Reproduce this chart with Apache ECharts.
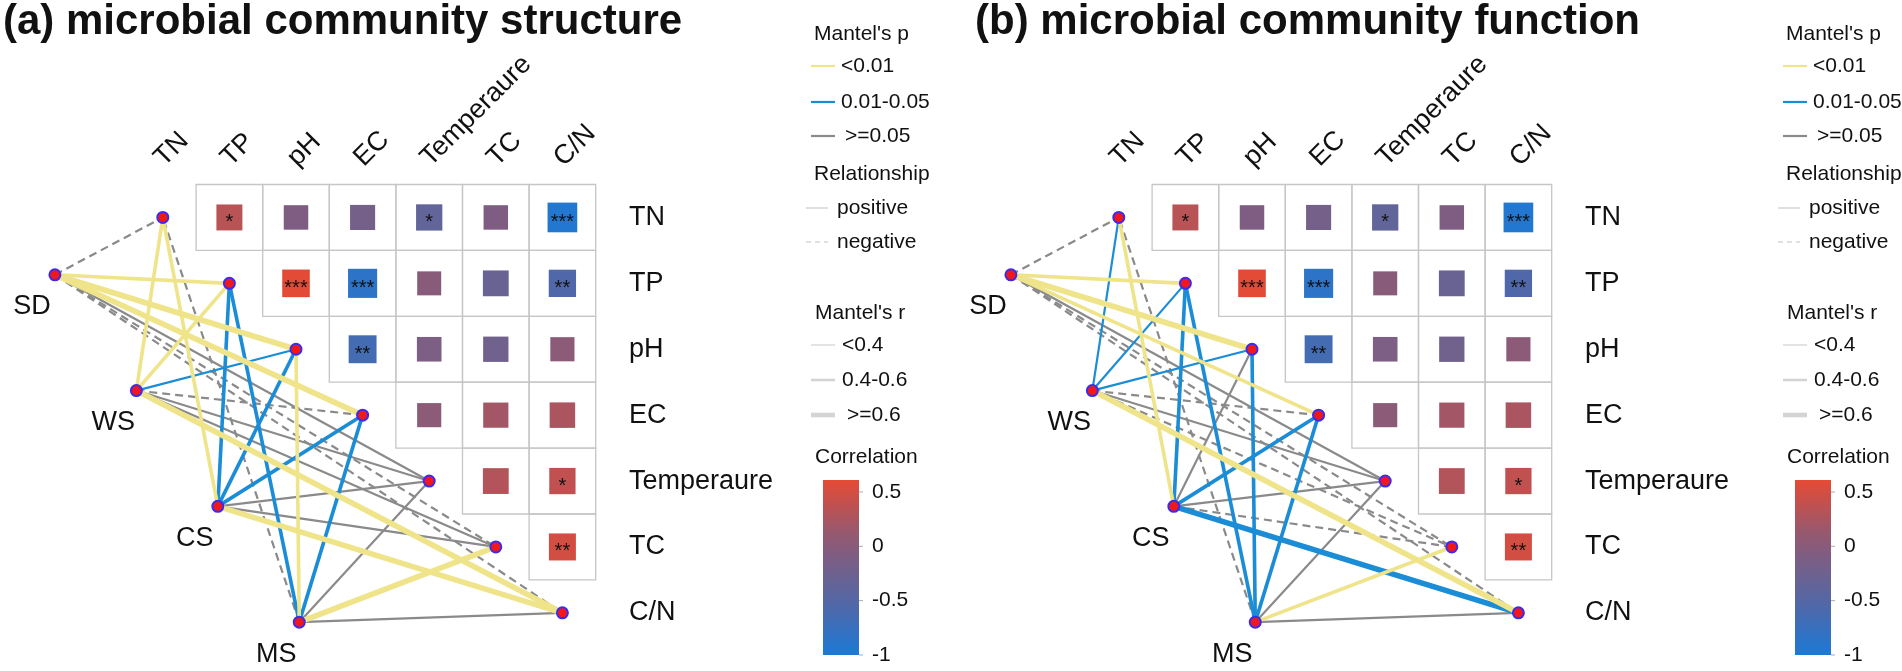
<!DOCTYPE html>
<html><head><meta charset="utf-8">
<script src="https://cdn.jsdelivr.net/npm/echarts@6/dist/echarts.min.js"></script>
<style>html,body{margin:0;padding:0;background:#fff}#c{width:1902px;height:671px}</style>
</head><body><div id="c"></div>
<script>
// ---------------- data ----------------
const envVars = ['TN', 'TP', 'pH', 'EC', 'Temperaure', 'TC', 'C/N'];
const speciesNames = ['SD', 'WS', 'CS', 'MS'];
const panelTitles = ['(a) microbial community structure', '(b) microbial community function'];

// Pearson correlation among environmental factors (upper triangle, row i -> columns j>i)
const corrTN   = [0.33, -0.08, -0.18, -0.38, -0.08, -0.95];
const corrTP   = [0.60, -0.85, 0.00, -0.30, -0.55];
const corrPH   = [-0.65, -0.10, -0.22, 0.03];
const corrEC   = [0.02, 0.20, 0.25];
const corrTemp = [0.30, 0.38];
const corrTC   = [0.50];
const sigTN   = ['*', '', '', '*', '', '***'];
const sigTP   = ['***', '***', '', '', '**'];
const sigPH   = ['**', '', '', ''];
const sigEC   = ['', '', ''];
const sigTemp = ['', '*'];
const sigTC   = ['**'];

// Mantel tests, order of envVars: r (sign = relationship) and p
const mantelR_struct_SD = [-0.18, 0.52, 0.68, 0.64, 0.22, -0.20, -0.24];
const mantelP_struct_SD = [0.21, 0.001, 0.001, 0.001, 0.12, 0.15, 0.09];
const mantelR_struct_WS = [0.45, 0.42, 0.35, -0.15, 0.20, 0.18, 0.66];
const mantelP_struct_WS = [0.004, 0.006, 0.03, 0.30, 0.18, 0.22, 0.001];
const mantelR_struct_CS = [0.48, 0.50, 0.44, 0.46, 0.21, 0.23, 0.70];
const mantelP_struct_CS = [0.003, 0.02, 0.03, 0.02, 0.14, 0.10, 0.001];
const mantelR_struct_MS = [-0.20, 0.47, 0.50, 0.49, 0.12, 0.67, 0.25];
const mantelP_struct_MS = [0.20, 0.02, 0.005, 0.015, 0.40, 0.001, 0.08];

const mantelR_func_SD = [-0.18, 0.55, 0.63, 0.50, 0.20, -0.20, -0.22];
const mantelP_func_SD = [0.22, 0.002, 0.001, 0.003, 0.15, 0.20, 0.12];
const mantelR_func_WS = [0.35, 0.36, 0.34, -0.15, 0.20, -0.18, 0.62];
const mantelP_func_WS = [0.03, 0.02, 0.03, 0.30, 0.16, 0.25, 0.002];
const mantelR_func_CS = [0.50, 0.50, 0.20, 0.42, 0.20, -0.20, 0.65];
const mantelP_func_CS = [0.004, 0.02, 0.20, 0.03, 0.15, 0.20, 0.02];
const mantelR_func_MS = [-0.22, 0.48, 0.50, 0.47, 0.12, 0.45, 0.25];
const mantelP_func_MS = [0.15, 0.02, 0.015, 0.02, 0.40, 0.008, 0.07];

const colorbarTicks = [0.5, 0, -0.5, -1];
const pLegendLabels = ['<0.01', '0.01-0.05', '>=0.05'];
const relLegendLabels = ['positive', 'negative'];
const rLegendLabels = ['<0.4', '0.4-0.6', '>=0.6'];

// ---------------- layout / style ----------------
const FONT = '"Liberation Sans", Arial, Helvetica, sans-serif';
const YEL = '#EFE48A', BLU = '#1B8CD6', GRY = '#8A8A8A';
const CMIN = -1, CMAX = 0.61;
const CMAP = ['#1C7AD6', '#3670BF', '#5168A8', '#686394', '#7F5D82', '#9A586C', '#C05150', '#E54B35'];
const UX = 66.6, UY = 65.9;
const XMIN = -1.9, XMAX = 9, YMIN = -2.5, YMAX = 7.2;
const origins = [[129.5, 184.5], [1085.5, 184.5]];
const legendX = [814, 1786];
const titleX = [3, 975];
const spStart = [-1.12, 1.37], spStep = [1.223, 1.757];

const corrRows = [corrTN, corrTP, corrPH, corrEC, corrTemp, corrTC];
const sigRows = [sigTN, sigTP, sigPH, sigEC, sigTemp, sigTC];
const cells = [];
corrRows.forEach((row, i) => row.forEach((r, k) => {
  const j = i + 1 + k;
  cells.push({value: [j + 0.5, i + 0.5, r], sig: sigRows[i][k]});
}));

const mantel = [
  {R: [mantelR_struct_SD, mantelR_struct_WS, mantelR_struct_CS, mantelR_struct_MS],
   P: [mantelP_struct_SD, mantelP_struct_WS, mantelP_struct_CS, mantelP_struct_MS]},
  {R: [mantelR_func_SD, mantelR_func_WS, mantelR_func_CS, mantelR_func_MS],
   P: [mantelP_func_SD, mantelP_func_WS, mantelP_func_CS, mantelP_func_MS]}
];
const spPos = speciesNames.map((s, k) => [spStart[0] + k * spStep[0], spStart[1] + k * spStep[1]]);
const envPos = envVars.map((v, i) => [i + 0.5, i + 0.5]);

function pColor(p) { return p < 0.01 ? YEL : (p < 0.05 ? BLU : GRY); }
function rWidth(r) { const a = Math.abs(r); return a < 0.4 ? 2.2 : (a < 0.6 ? 3.6 : 5.6); }

function linkData(pi) {
  const arr = [];
  speciesNames.forEach((s, k) => envVars.forEach((v, i) => {
    arr.push([spPos[k][0], spPos[k][1], envPos[i][0], envPos[i][1], mantel[pi].R[k][i], mantel[pi].P[k][i]]);
  }));
  arr.sort((a, b) => b[5] - a[5]); // grey first, yellow on top
  return arr;
}

const grids = origins.map(o => ({
  left: o[0] + XMIN * UX, top: o[1] + YMIN * UY,
  width: (XMAX - XMIN) * UX, height: (YMAX - YMIN) * UY
}));

const series = [];
// heatmaps (series 0,1)
[0, 1].forEach(pi => {
  series.push({
    type: 'custom', xAxisIndex: pi, yAxisIndex: pi, clip: false, z: 2,
    data: cells.map(c => c.value),
    renderItem: function (params, api) {
      const cx = api.value(0), cy = api.value(1), r = api.value(2);
      const p0 = api.coord([cx - 0.5, cy - 0.5]), p1 = api.coord([cx + 0.5, cy + 0.5]);
      const c = api.coord([cx, cy]);
      const s = 24 + 6 * Math.abs(r);
      const sig = cells[params.dataIndex].sig;
      return {type: 'group', children: [
        {type: 'rect', shape: {x: p0[0], y: p0[1], width: p1[0] - p0[0], height: p1[1] - p0[1]},
         style: {fill: 'none', stroke: '#c6c6c6', lineWidth: 1.3}},
        {type: 'rect', shape: {x: c[0] - s / 2, y: c[1] - s / 2, width: s, height: s},
         style: {fill: api.visual('color')}},
        {type: 'text', x: c[0], y: c[1] + 5,
         style: {text: sig, fill: '#111', fontSize: 20, fontFamily: FONT, align: 'center', verticalAlign: 'middle'}}
      ]};
    }
  });
});
// links (series 2,3)
[0, 1].forEach(pi => {
  series.push({
    type: 'custom', xAxisIndex: pi, yAxisIndex: pi, clip: false, z: 3,
    data: linkData(pi),
    renderItem: function (params, api) {
      const a = api.coord([api.value(0), api.value(1)]);
      const b = api.coord([api.value(2), api.value(3)]);
      const r = api.value(4), p = api.value(5);
      return {type: 'line', shape: {x1: a[0], y1: a[1], x2: b[0], y2: b[1]},
        style: {stroke: pColor(p), lineWidth: rWidth(r), lineDash: r < 0 ? [8, 5] : null, fill: null}};
    }
  });
});
// nodes (series 4,5)
[0, 1].forEach(pi => {
  series.push({
    type: 'scatter', xAxisIndex: pi, yAxisIndex: pi, clip: false, z: 5,
    symbol: 'circle', symbolSize: 11,
    itemStyle: {color: '#F21818', borderColor: '#3B2BF0', borderWidth: 2, opacity: 1},
    data: envPos.concat(spPos),
    silent: true
  });
});

const option = {
  animation: false,
  backgroundColor: '#ffffff',
  grid: grids,
  xAxis: grids.map((g, i) => ({type: 'value', gridIndex: i, min: XMIN, max: XMAX, show: false})),
  yAxis: grids.map((g, i) => ({type: 'value', gridIndex: i, min: YMIN, max: YMAX, inverse: true, show: false})),
  visualMap: [{type: 'continuous', show: false, seriesIndex: [0, 1], dimension: 2,
    min: CMIN, max: CMAX, inRange: {color: CMAP}}],
  series: series
};

const chart = echarts.init(document.getElementById('c'));
chart.setOption(option);

// ---------------- texts & legends ----------------
const g = [];
function txt(text, x, y, size, opts) {
  opts = opts || {};
  g.push({type: 'text', x: x, y: y, rotation: opts.rot || 0, z: 10,
    style: {text: text, fill: opts.fill || '#111', fontSize: size, fontFamily: FONT,
      fontWeight: opts.bold ? 'bold' : 'normal', align: opts.align || 'left', verticalAlign: 'middle'}});
}
function seg(x1, x2, y, color, w, dash) {
  g.push({type: 'line', z: 10, shape: {x1: x1, y1: y, x2: x2, y2: y},
    style: {stroke: color, lineWidth: w, lineDash: dash || null}});
}

[0, 1].forEach(pi => {
  const conv = pt => chart.convertToPixel({gridIndex: pi}, pt);
  txt(panelTitles[pi], titleX[pi], 22, 42, {bold: true});
  envVars.forEach((v, i) => {
    const rp = conv([7.5, i + 0.5]);
    txt(v, rp[0], rp[1], 27);
    const cp = conv([i + 0.44, -0.34]);
    txt(v, cp[0], cp[1], 27, {rot: Math.PI / 4});
  });
  speciesNames.forEach((s, k) => {
    const p = conv(spPos[k]);
    txt(s, p[0] - 23, p[1] + 32, 27, {align: 'center'});
  });
  // legend
  const x0 = legendX[pi];
  txt("Mantel's p", x0, 34, 21);
  [YEL, BLU, GRY].forEach((c, k) => {
    const y = [66, 102, 136][k];
    seg(x0 - 3, x0 + 21, y, c, 2.2);
    txt(pLegendLabels[k], x0 + (k === 2 ? 31 : 27), y, 21);
  });
  txt('Relationship', x0, 174, 21);
  relLegendLabels.forEach((l, k) => {
    const y = [208, 242][k];
    seg(x0 - 8, x0 + 14, y, '#d6d6d6', 1.5, k === 1 ? [5, 4] : null);
    txt(l, x0 + 23, y, 21);
  });
  txt("Mantel's r", x0 + 1, 313, 21);
  rLegendLabels.forEach((l, k) => {
    const y = [345, 380, 415][k];
    seg(x0 - 3, x0 + 21, y, '#d4d4d4', [1.3, 2.6, 4.6][k]);
    txt(l, x0 + (k === 2 ? 33 : 28), y, 21);
  });
  txt('Correlation', x0 + 1, 457, 21);
  const cbTop = 480, cbH = 175, cbX = x0 + 9, cbW = 36;
  g.push({type: 'rect', z: 10, shape: {x: cbX, y: cbTop, width: cbW, height: cbH},
    style: {fill: {type: 'linear', x: 0, y: 0, x2: 0, y2: 1,
      colorStops: CMAP.slice().reverse().map((c, k) => ({offset: k / (CMAP.length - 1), color: c}))}}});
  colorbarTicks.forEach(t => {
    const y = cbTop + (CMAX - t) / (CMAX - CMIN) * cbH;
    seg(cbX + cbW, cbX + cbW + 4, y, '#aaaaaa', 1);
    txt(String(t), cbX + cbW + 13, y, 21);
  });
});
chart.setOption({graphic: g});
</script>
</body></html>
